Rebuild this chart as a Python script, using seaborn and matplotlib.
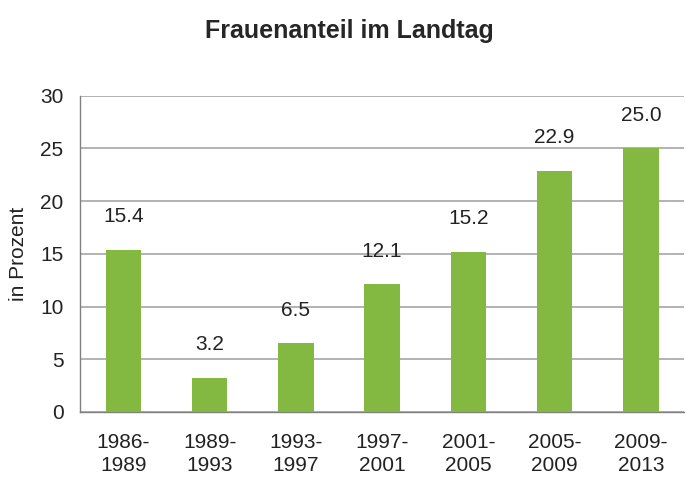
import numpy as np
import pandas as pd
import matplotlib
matplotlib.use('Agg')
import matplotlib.pyplot as plt
import seaborn as sns

periods = ['1986-\n1989', '1989-\n1993', '1993-\n1997', '1997-\n2001',
           '2001-\n2005', '2005-\n2009', '2009-\n2013']
share = [15.4, 3.2, 6.5, 12.1, 15.2, 22.9, 25.0]

df = pd.DataFrame({'period': periods, 'share': share})

sns.set_style('white')
plt.rcParams['font.family'] = ['Liberation Sans', 'DejaVu Sans']

fig = plt.figure(figsize=(6.86, 4.79), dpi=100)
ax = fig.add_axes([0.117, 0.14, 0.88, 0.66])

sns.barplot(data=df, x='period', y='share', color='#84b941', width=0.41,
            saturation=1, linewidth=0, ax=ax, zorder=3)

for i, v in enumerate(share):
    ax.annotate(f'{v:.1f}', (i, v), xytext=(0, 24), textcoords='offset points',
                ha='center', va='center', fontsize=15, color='#222222')

ax.set_ylim(0, 30)
ax.set_yticks(range(0, 31, 5))
ax.set_xlim(-0.5, 6.5)
ax.yaxis.grid(True, color='#a6a6a6', linewidth=1.2, zorder=0)
ax.set_axisbelow(True)

# category boundary ticks on x axis
ax.set_xticks(np.arange(-0.5, 7, 1), minor=True)
ax.tick_params(axis='x', which='major', length=0, pad=15, labelsize=15, labelcolor='#222222')
for t in ax.get_xticklabels():
    t.set_linespacing(1.3)
ax.tick_params(axis='x', which='minor', length=6, color='#808080', width=1)
ax.tick_params(axis='y', length=6, color='#808080', width=1, pad=6,
               labelsize=15, labelcolor='#222222')
ax.set_xlabel('')
ax.set_ylabel('in Prozent', fontsize=15, color='#222222', labelpad=9)

for s in ['top', 'right']:
    ax.spines[s].set_visible(False)
for s in ['left', 'bottom']:
    ax.spines[s].set_color('#808080')
    ax.spines[s].set_linewidth(1)

fig.suptitle('Frauenanteil im Landtag', fontsize=18, fontweight='bold', x=0.51, y=0.96)

fig.savefig('out.png', dpi=100)
